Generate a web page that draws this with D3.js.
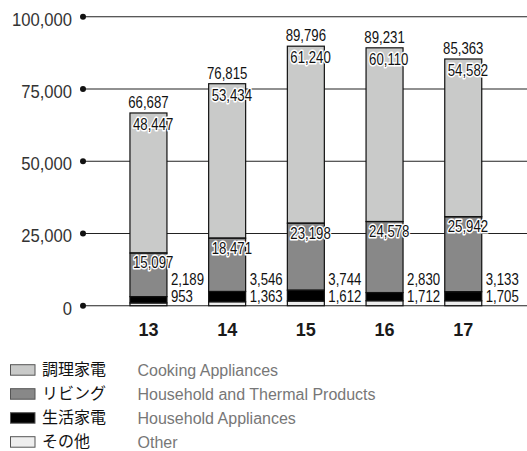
<!DOCTYPE html>
<html>
<head>
<meta charset="utf-8">
<script src="https://cdn.jsdelivr.net/npm/d3@7"></script>
<style>
  html, body { margin: 0; padding: 0; background: #fff; }
  svg { display: block; }
</style>
</head>
<body>
<svg id="chart" width="527" height="451"></svg>
<script>
// ---- Data ----
const years = ["13", "14", "15", "16", "17"];
const cooking = [48447, 53434, 61240, 60110, 54582];
const living = [15097, 18471, 23198, 24578, 25942];
const household = [2189, 3546, 3744, 2830, 3133];
const other = [953, 1363, 1612, 1712, 1705];
const totals = [66687, 76815, 89796, 89231, 85363];
const yTicks = [0, 25000, 50000, 75000, 100000];

const seriesNames = ["other", "household", "living", "cooking"];
const seriesColors = { other: "#eeeeee", household: "#000000", living: "#888888", cooking: "#c9cac9" };
const legendJa = ["調理家電", "リビング", "生活家電", "その他"];
const legendEn = ["Cooking Appliances", "Household and Thermal Products", "Household Appliances", "Other"];
const legendKeys = ["cooking", "living", "household", "other"];

const rows = years.map((yr, i) => ({
  year: yr, other: other[i], household: household[i], living: living[i], cooking: cooking[i], total: totals[i]
}));

const svg = d3.select("#chart");
const baseFont = "'Liberation Sans', Arial, Helvetica, sans-serif";
const LSX = 0.8;   // condensed look for value labels

const y = d3.scaleLinear().domain([0, 100000]).range([305.7, 16.7]);
const x = d3.scaleBand().domain(years).range([109.1, 502.6]).paddingInner(0.53).paddingOuter(0.265);

function place(sel, fx, fy, sx) {
  sel.attr("transform", (d, i) => `translate(${fx(d, i)},${fy(d, i)}) scale(${sx},1)`);
}

// Gridlines with dots
const grid = svg.append("g");
yTicks.forEach(t => {
  grid.append("line").attr("x1", 83).attr("x2", 527).attr("y1", y(t)).attr("y2", y(t))
    .attr("stroke", "#222").attr("stroke-width", 1.1);
  grid.append("circle").attr("cx", 83).attr("cy", y(t)).attr("r", 3).attr("fill", "#111");
});
grid.selectAll("text.tick").data(yTicks).enter().append("text")
  .attr("class", "tick")
  .attr("text-anchor", "end")
  .attr("font-family", baseFont).attr("font-size", 18.5).attr("fill", "#333")
  .call(place, () => 72, d => y(d) + 8.8, 0.9)
  .text(d => d3.format(",")(d));

// Stacked bars
const stack = d3.stack().keys(seriesNames)(rows);
const bars = svg.append("g");
stack.forEach(layer => {
  bars.selectAll(null).data(layer).enter().append("rect")
    .attr("x", d => x(d.data.year))
    .attr("width", x.bandwidth())
    .attr("y", d => y(d[1]))
    .attr("height", d => y(d[0]) - y(d[1]))
    .attr("fill", seriesColors[layer.key]);
});
stack.forEach(layer => {
  bars.selectAll(null).data(layer).enter().append("rect")
    .attr("x", d => x(d.data.year))
    .attr("width", x.bandwidth())
    .attr("y", d => y(d[1]))
    .attr("height", d => y(d[0]) - y(d[1]))
    .attr("fill", "none").attr("stroke", "#111").attr("stroke-width", 1.2);
});

const fmt = d3.format(",");
const labels = svg.append("g").attr("font-family", baseFont).attr("font-size", 16.5).attr("fill", "#111");

// totals
labels.selectAll(null).data(rows).enter().append("text")
  .attr("text-anchor", "middle")
  .call(place, d => x(d.year) + x.bandwidth() / 2, d => y(d.total) - 5, LSX)
  .text(d => fmt(d.total));

// halo labels (cooking & living)
const cookTop = stack[3];
const livTop = stack[2];
function halo(sel) {
  sel.attr("stroke", "#fff").attr("stroke-width", 3).attr("paint-order", "stroke").attr("stroke-linejoin", "round");
}
labels.selectAll(null).data(cookTop).enter().append("text")
  .call(place, d => x(d.data.year) + 3, d => y(d[1]) + 17, LSX)
  .call(halo)
  .text(d => fmt(d.data.cooking));
labels.selectAll(null).data(livTop).enter().append("text")
  .call(place, d => x(d.data.year) + 3, d => y(d[1]) + 15.5, LSX)
  .call(halo)
  .text(d => fmt(d.data.living));

// right-side labels
labels.selectAll(null).data(rows).enter().append("text")
  .call(place, d => x(d.year) + x.bandwidth() + 4, () => y(0) - 21, LSX)
  .text(d => fmt(d.household));
labels.selectAll(null).data(rows).enter().append("text")
  .call(place, d => x(d.year) + x.bandwidth() + 4, () => y(0) - 4, LSX)
  .text(d => fmt(d.other));

// year labels
svg.append("g").selectAll("text").data(years).enter().append("text")
  .attr("x", d => x(d) + x.bandwidth() / 2)
  .attr("y", 336)
  .attr("text-anchor", "middle")
  .attr("font-family", baseFont).attr("font-weight", "bold").attr("font-size", 18).attr("fill", "#1a1a1a")
  .text(d => d);

// legend
const lg = svg.append("g");
legendKeys.forEach((k, i) => {
  const cy = 369.7 + i * 24;
  lg.append("rect").attr("x", 10.5).attr("y", cy - 5).attr("width", 24.5).attr("height", 10.5)
    .attr("fill", seriesColors[k]).attr("stroke", "#555").attr("stroke-width", 1);
  lg.append("text").attr("x", 42).attr("y", cy + 5.5)
    .attr("font-family", "'Noto Sans CJK JP', sans-serif").attr("font-size", 16).attr("fill", "#111")
    .text(legendJa[i]);
  lg.append("text").attr("x", 137.5).attr("y", cy + 5.8)
    .attr("font-family", baseFont).attr("font-size", 16).attr("fill", "#777")
    .text(legendEn[i]);
});
</script>
</body>
</html>
